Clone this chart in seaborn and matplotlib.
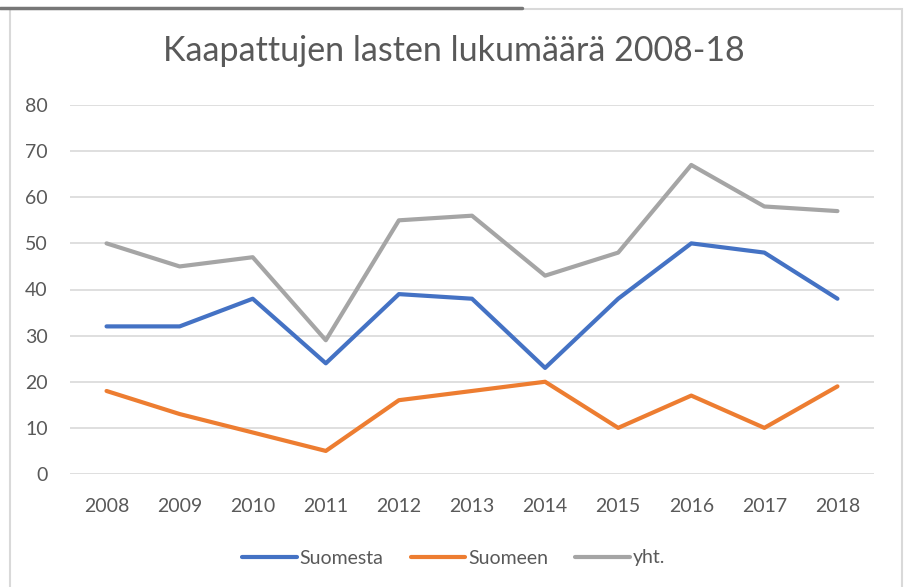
import pandas as pd
import seaborn as sns
from matplotlib import pyplot as plt
from matplotlib.lines import Line2D
from matplotlib.patches import Rectangle

# data
years = [2008, 2009, 2010, 2011, 2012, 2013, 2014, 2015, 2016, 2017, 2018]
suomesta = [32, 32, 38, 24, 39, 38, 23, 38, 50, 48, 38]
suomeen = [18, 13, 9, 5, 16, 18, 20, 10, 17, 10, 19]
yht = [50, 45, 47, 29, 55, 56, 43, 48, 67, 58, 57]
series_names = ['Suomesta', 'Suomeen', 'yht.']
colors = ['#4472C4', '#ED7D31', '#A5A5A5']

df = pd.DataFrame({'vuosi': years, 'Suomesta': suomesta, 'Suomeen': suomeen, 'yht.': yht})
long = df.melt(id_vars='vuosi', var_name='sarja', value_name='lkm')

sns.set_style("white")
plt.rcParams['font.family'] = ['Lato', 'DejaVu Sans']
grey_txt = '#595959'

fig = plt.figure(figsize=(9.07, 5.87), dpi=100)
ax = fig.add_axes([70 / 907, 1 - 474 / 587, (874 - 70) / 907, (474 - 105) / 587])

sns.lineplot(data=long, x='vuosi', y='lkm', hue='sarja', hue_order=series_names,
             palette=colors, linewidth=3, ax=ax, legend=False)

ax.set_xlim(years[0] - 0.5, years[-1] + 0.5)
ax.set_ylim(0, 80)
ax.set_xticks(years)
ax.set_yticks(range(0, 81, 10))
ax.set_xlabel('')
ax.set_ylabel('')
ax.grid(axis='y', color='#D9D9D9', linewidth=1.2)
ax.set_axisbelow(True)
for s in ax.spines.values():
    s.set_visible(False)
ax.tick_params(axis='x', length=0, pad=17, labelsize=14, labelcolor=grey_txt)
ax.tick_params(axis='y', length=0, pad=16, labelsize=14, labelcolor=grey_txt)

fig.text(0.5, 1 - 51 / 587, 'Kaapattujen lasten lukumäärä 2008-18',
         ha='center', va='center', fontsize=24.5, color=grey_txt)

handles = [Line2D([], [], color=c, linewidth=3, solid_capstyle='round') for c in colors]
fig.legend(handles, series_names, loc='center', bbox_to_anchor=(0.5, 1 - 558 / 587),
           ncol=3, frameon=False, fontsize=14, handlelength=2.8, handletextpad=0.15,
           columnspacing=1.4, labelcolor=grey_txt)

# chart frame like in the source screenshot
fig.add_artist(Rectangle((10 / 907, -0.05), (902 - 10) / 907, 1.05 - 9 / 587,
                         transform=fig.transFigure, fill=False, edgecolor='#D9D9D9', linewidth=1.5))
fig.add_artist(Line2D([0, 522 / 907], [1 - 7.5 / 587, 1 - 7.5 / 587],
                      transform=fig.transFigure, color='#777777', linewidth=2.5))

fig.savefig('out.png', dpi=100)
